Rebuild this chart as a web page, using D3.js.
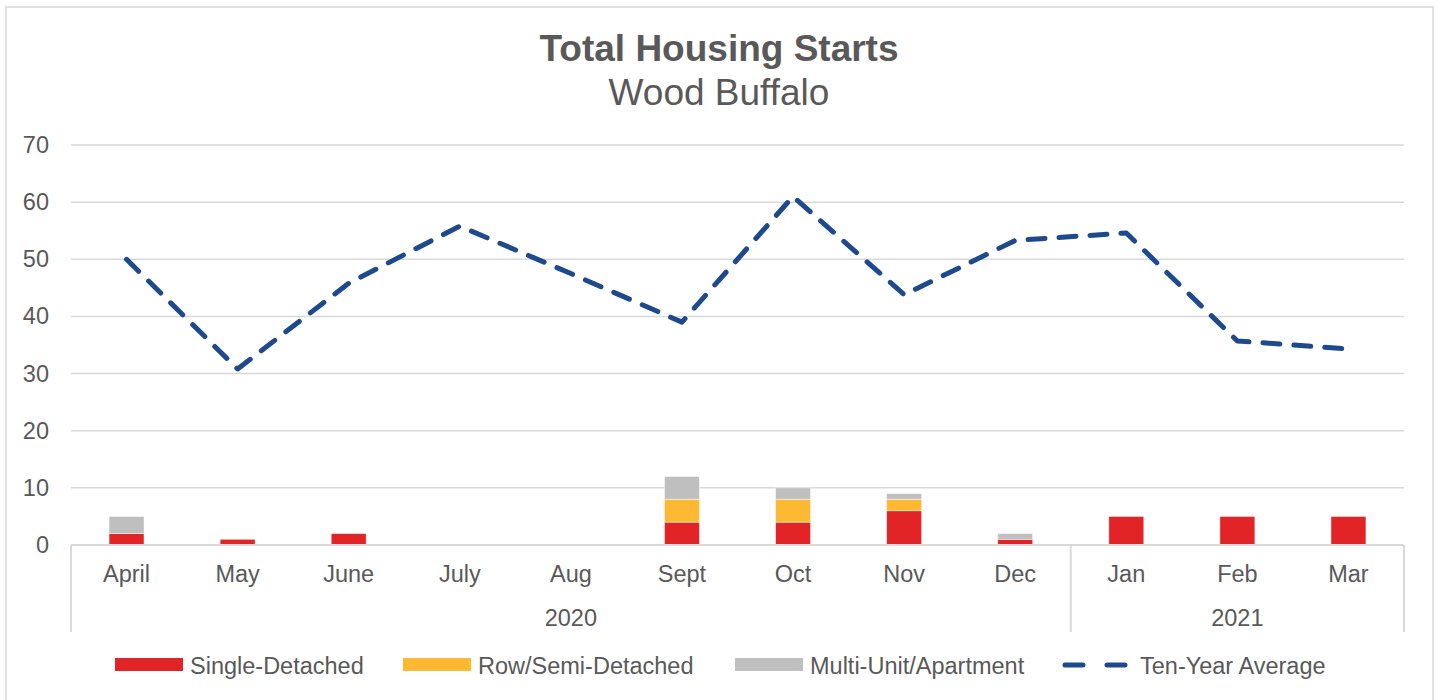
<!DOCTYPE html>
<html>
<head>
<meta charset="utf-8">
<script src="https://cdn.jsdelivr.net/npm/d3@7"></script>
<style>
  body { margin: 0; background: #fff; }
  svg text { font-family: "Liberation Sans", Arial, sans-serif; fill: #595959; }
</style>
</head>
<body>
<div id="chart"></div>
<script>
// data
const months = ["April", "May", "June", "July", "Aug", "Sept", "Oct", "Nov", "Dec", "Jan", "Feb", "Mar"];
const years = [{label: "2020", from: 0, to: 9}, {label: "2021", from: 9, to: 12}];
const singleDetached = [2, 1, 2, 0, 0, 4, 4, 6, 1, 5, 5, 5];
const rowSemi = [0, 0, 0, 0, 0, 4, 4, 2, 0, 0, 0, 0];
const multiUnit = [3, 0, 0, 0, 0, 4, 2, 1, 1, 0, 0, 0];
const tenYearAvg = [50, 30.8, 45.8, 55.8, 47.5, 39, 61, 43.8, 53.3, 54.6, 35.7, 34.3];
const yTicks = [0, 10, 20, 30, 40, 50, 60, 70];

const seriesNames = ["Single-Detached", "Row/Semi-Detached", "Multi-Unit/Apartment"];
const colors = ["#e32427", "#fdb933", "#bfbfbf"];
const lineColor = "#1d4a8c";

const W = 1439, H = 700;
const margin = {top: 145, right: 35, bottom: 155, left: 71};
const width = W - margin.left - margin.right,
      height = H - margin.top - margin.bottom;

const svg = d3.select("#chart")
  .append("svg")
    .attr("width", W)
    .attr("height", H);

// outer chart border
svg.append("rect")
  .attr("x", 6).attr("y", 7)
  .attr("width", 1427).attr("height", 720)
  .attr("fill", "none")
  .attr("stroke", "#d9d9d9")
  .attr("stroke-width", 1.5);

// titles
svg.append("text")
  .attr("x", 719).attr("y", 61)
  .attr("text-anchor", "middle")
  .style("font-size", "37px")
  .style("font-weight", "bold")
  .text("Total Housing Starts");
svg.append("text")
  .attr("x", 719).attr("y", 105)
  .attr("text-anchor", "middle")
  .style("font-size", "37px")
  .text("Wood Buffalo");

const g = svg.append("g")
  .attr("transform", `translate(${margin.left}, ${margin.top})`);

const x = d3.scaleBand()
  .domain(months)
  .range([0, width])
  .paddingInner(0.685)
  .paddingOuter(0.3425);

const y = d3.scaleLinear()
  .domain([0, 70])
  .range([height, 0]);

// gridlines
g.selectAll(".grid")
  .data(yTicks)
  .join("line")
    .attr("x1", 0).attr("x2", width)
    .attr("y1", d => y(d)).attr("y2", d => y(d))
    .attr("stroke", "#d9d9d9")
    .attr("stroke-width", 1.5);

// y labels
const yAxis = g.append("g")
  .call(d3.axisLeft(y).tickValues(yTicks).tickSize(0).tickPadding(22));
yAxis.select(".domain").remove();
yAxis.selectAll("text")
  .attr("fill", "#595959")
  .style("font-size", "23.5px");

// stacked bars
const rows = months.map((m, i) => ({
  month: m,
  s0: singleDetached[i], s1: rowSemi[i], s2: multiUnit[i]
}));
const stack = d3.stack().keys(["s0", "s1", "s2"]);
const layers = stack(rows);

g.selectAll(".layer")
  .data(layers)
  .join("g")
    .attr("fill", (d, i) => colors[i])
  .selectAll("rect")
  .data(d => d.filter(v => v[1] - v[0] > 0))
  .join("rect")
    .attr("x", d => x(d.data.month))
    .attr("y", d => y(d[1]))
    .attr("width", x.bandwidth())
    .attr("height", d => y(d[0]) - y(d[1]))
    .attr("stroke", "#ffffff")
    .attr("stroke-opacity", 0.6)
    .attr("stroke-width", 0.8);

// ten year average line
const line = d3.line()
  .x((d, i) => x(months[i]) + x.bandwidth() / 2)
  .y(d => y(d));

g.append("path")
  .datum(tenYearAvg)
  .attr("d", line)
  .attr("fill", "none")
  .attr("stroke", lineColor)
  .attr("stroke-width", 5)
  .attr("stroke-linecap", "round")
  .attr("stroke-linejoin", "round")
  .attr("stroke-dasharray", "17,14");

// category axis (months + years)
const axisColor = "#d9d9d9";
const step = x.step();
g.append("line")
  .attr("x1", 0).attr("x2", width)
  .attr("y1", height).attr("y2", height)
  .attr("stroke", axisColor).attr("stroke-width", 2);

const bounds = [0, 9, 12];
g.selectAll(".sep")
  .data(bounds)
  .join("line")
    .attr("x1", d => d * step).attr("x2", d => d * step)
    .attr("y1", height).attr("y2", height + 87)
    .attr("stroke", axisColor).attr("stroke-width", 2);

g.selectAll(".mlabel")
  .data(months)
  .join("text")
    .attr("x", d => x(d) + x.bandwidth() / 2)
    .attr("y", height + 37)
    .attr("text-anchor", "middle")
    .style("font-size", "23.5px")
    .text(d => d);

g.selectAll(".ylabel")
  .data(years)
  .join("text")
    .attr("x", d => (d.from + d.to) / 2 * step)
    .attr("y", height + 81)
    .attr("text-anchor", "middle")
    .style("font-size", "23.5px")
    .text(d => d.label);

// legend
const legend = svg.append("g").attr("transform", "translate(0, 665)");
const legendX = [115, 403, 735];
seriesNames.forEach((name, i) => {
  legend.append("rect")
    .attr("x", legendX[i]).attr("y", -7)
    .attr("width", 68).attr("height", 13)
    .attr("fill", colors[i]);
  legend.append("text")
    .attr("x", legendX[i] + 75).attr("y", 9)
    .style("font-size", "23.5px")
    .text(name);
});
legend.append("line")
  .attr("x1", 1065).attr("x2", 1125)
  .attr("y1", 0).attr("y2", 0)
  .attr("stroke", lineColor)
  .attr("stroke-width", 5)
  .attr("stroke-linecap", "round")
  .attr("stroke-dasharray", "18,24");
legend.append("text")
  .attr("x", 1140).attr("y", 9)
  .style("font-size", "23.5px")
  .text("Ten-Year Average");
</script>
</body>
</html>
